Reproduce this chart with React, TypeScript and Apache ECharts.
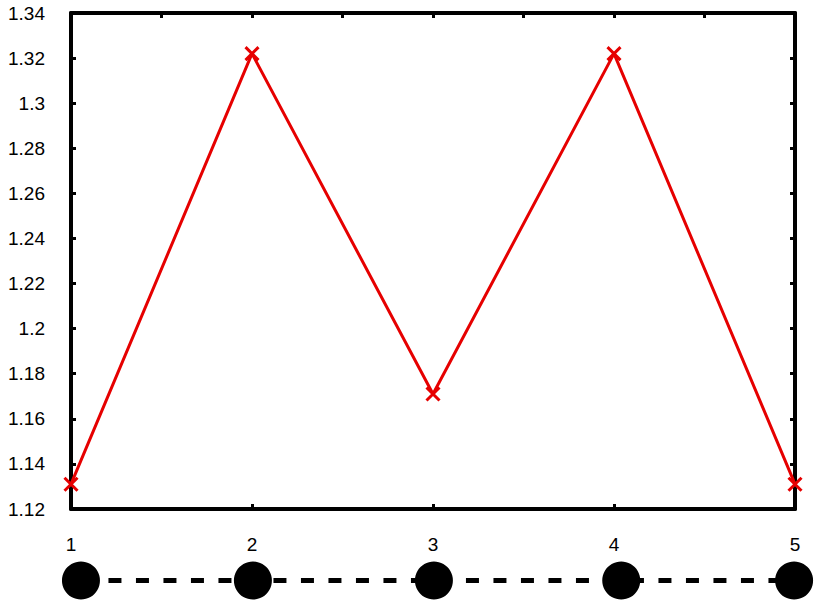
import React, { useEffect, useRef } from "react";
import * as echarts from "echarts";

const positions = [1, 2, 3, 4, 5];
const values = [1.131, 1.322, 1.171, 1.322, 1.131];
const yTicks = { min: 1.12, max: 1.34, step: 0.02 };
// circles under the axis sit a little off the ticks
const circleX = [1.055, 2.005, 3.005, 4.04, 4.995];

const FONT = "Liberation Sans, Arial, sans-serif";

const App: React.FC = () => {
  const chartRef = useRef<HTMLDivElement>(null);

  useEffect(() => {
    if (!chartRef.current) return;
    const chart = echarts.init(chartRef.current, undefined, { renderer: "svg" });

    const axisLine = { show: true, lineStyle: { color: "#000", width: 4 } };
    const tick = { show: true, inside: true, length: 5, lineStyle: { color: "#000", width: 3 } };

    const option = {
      animation: false,
      backgroundColor: "#fff",
      grid: [
        { left: 71, top: 13, width: 724, height: 496 },
        { left: 71, top: 561, width: 724, height: 39 },
      ],
      xAxis: [
        {
          type: "value",
          gridIndex: 0,
          position: "bottom",
          min: 1,
          max: 5,
          interval: 1,
          axisLine,
          axisTick: tick,
          splitLine: { show: false },
          axisLabel: { color: "#000", fontSize: 19, fontFamily: FONT, margin: 26 },
        },
        {
          type: "value",
          gridIndex: 0,
          position: "top",
          min: 1,
          max: 5,
          interval: 0.5,
          axisLine,
          axisTick: tick,
          splitLine: { show: false },
          axisLabel: { show: false },
        },
        {
          type: "value",
          gridIndex: 1,
          min: 1,
          max: 5,
          show: false,
        },
      ],
      yAxis: [
        {
          type: "value",
          gridIndex: 0,
          position: "left",
          min: yTicks.min,
          max: yTicks.max,
          interval: yTicks.step,
          axisLine,
          axisTick: tick,
          splitLine: { show: false },
          axisLabel: {
            color: "#000",
            fontSize: 19,
            fontFamily: FONT,
            margin: 26,
            formatter: (v: number) => String(parseFloat(v.toFixed(2))),
          },
        },
        {
          type: "value",
          gridIndex: 0,
          position: "right",
          min: yTicks.min,
          max: yTicks.max,
          interval: yTicks.step,
          axisLine,
          axisTick: tick,
          splitLine: { show: false },
          axisLabel: { show: false },
        },
        {
          type: "value",
          gridIndex: 1,
          min: -1,
          max: 1,
          show: false,
        },
      ],
      series: [
        {
          type: "line",
          xAxisIndex: 0,
          yAxisIndex: 0,
          data: positions.map((p, i) => [p, values[i]]),
          clip: false,
          z: 10,
          lineStyle: { color: "#e60000", width: 3 },
          symbol: "path://M0,0L10,10M10,0L0,10",
          symbolSize: 13,
          showAllSymbol: true,
          itemStyle: { color: "#e60000", borderColor: "#e60000", borderWidth: 3 },
        },
        {
          type: "line",
          xAxisIndex: 2,
          yAxisIndex: 2,
          data: circleX.map((p) => [p, 0]),
          clip: false,
          symbol: "circle",
          symbolSize: 38,
          lineStyle: { color: "#000", width: 5, type: [13, 14.5] },
          itemStyle: { color: "#000" },
        },
      ],
    };

    chart.setOption(option);
    return () => {
      chart.dispose();
    };
  }, []);

  return (
    <div
      ref={chartRef}
      style={{ position: "fixed", left: 0, top: 0, width: 815, height: 601 }}
    />
  );
};

export default App;
